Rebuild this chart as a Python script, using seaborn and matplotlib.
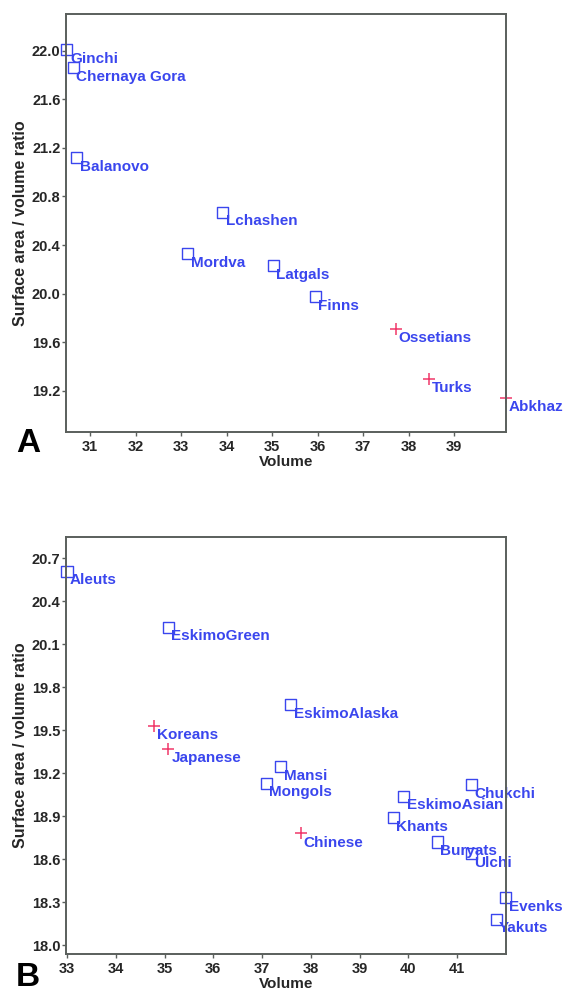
import matplotlib
matplotlib.use("Agg")
import matplotlib.pyplot as plt
import seaborn as sns
import pandas as pd

# ---- Panel A data ----
a_names = ["Ginchi", "Chernaya Gora", "Balanovo", "Lchashen", "Mordva", "Latgals",
           "Finns", "Ossetians", "Turks", "Abkhaz"]
a_volume = [30.49, 30.63, 30.71, 33.92, 33.15, 35.03, 35.95, 37.72, 38.45, 40.14]
a_ratio = [22.01, 21.86, 21.12, 20.67, 20.33, 20.23, 19.975, 19.71, 19.30, 19.14]
a_group = ["ancient", "ancient", "ancient", "ancient", "ancient", "ancient",
           "ancient", "modern", "modern", "modern"]

# ---- Panel B data ----
b_names = ["Aleuts", "EskimoGreen", "Koreans", "Japanese", "EskimoAlaska", "Mansi",
           "Mongols", "Chinese", "Chukchi", "EskimoAsian", "Khants", "Buryats",
           "Ulchi", "Evenks", "Yakuts"]
b_volume = [33.0, 35.08, 34.78, 35.08, 37.59, 37.38, 37.09, 37.79, 41.29, 39.90,
            39.69, 40.59, 41.29, 42.0, 41.80]
b_ratio = [20.61, 20.22, 19.53, 19.37, 19.68, 19.245, 19.13, 18.78, 19.12, 19.04,
           18.89, 18.72, 18.64, 18.33, 18.18]
b_group = ["north", "north", "south", "south", "north", "north", "north", "south",
           "north", "north", "north", "north", "north", "north", "north"]

a_xticks = [31, 32, 33, 34, 35, 36, 37, 38, 39]
a_yticks = [19.2, 19.6, 20.0, 20.4, 20.8, 21.2, 21.6, 22.0]
b_xticks = [33, 34, 35, 36, 37, 38, 39, 40, 41]
b_yticks = [18.0, 18.3, 18.6, 18.9, 19.2, 19.5, 19.8, 20.1, 20.4, 20.7]

BLUE = "#3a46ee"
RED = "#f0386a"
FRAME = "#5a5f5c"

sns.set_style("white")
plt.rcParams["font.family"] = ["Liberation Sans", "DejaVu Sans"]
plt.rcParams["font.weight"] = "bold"

fig = plt.figure(figsize=(5.64, 9.93), dpi=100)
axA = fig.add_axes([0.117, 0.5647, 0.780, 0.4212])
axB = fig.add_axes([0.117, 0.0390, 0.780, 0.4202])

dfA = pd.DataFrame({"Volume": a_volume, "Ratio": a_ratio, "Name": a_names, "Group": a_group})
dfB = pd.DataFrame({"Volume": b_volume, "Ratio": b_ratio, "Name": b_names, "Group": b_group})


def draw(ax, df, sq_group, xl, yl, xt, yt, yfmt, letter, letter_y):
    sq = df[df["Group"] == sq_group]
    pl = df[df["Group"] != sq_group]
    sns.scatterplot(data=sq, x="Volume", y="Ratio", ax=ax, marker="s", s=64,
                    facecolor="none", edgecolor=BLUE, linewidth=1.0, clip_on=False,
                    zorder=3, legend=False)
    sns.scatterplot(data=pl, x="Volume", y="Ratio", ax=ax, marker="+", s=80,
                    color=RED, linewidth=1.1, clip_on=False, zorder=3, legend=False)
    for _, r in df.iterrows():
        ax.annotate(r["Name"], (r["Volume"], r["Ratio"]), xytext=(2.2, -1.5),
                    textcoords="offset points", ha="left", va="top",
                    color=BLUE, fontsize=11, fontweight="bold", zorder=4,
                    annotation_clip=False)
    ax.set_xlim(*xl)
    ax.set_ylim(*yl)
    ax.set_xticks(xt)
    ax.set_xticklabels([str(v) for v in xt])
    ax.set_yticks(yt)
    ax.set_yticklabels([yfmt.format(v) for v in yt])
    ax.set_xlabel("Volume", fontsize=11, fontweight="bold", labelpad=1)
    ax.set_ylabel("Surface area / volume ratio", fontsize=11.5, fontweight="bold", labelpad=3)
    for sp in ax.spines.values():
        sp.set_visible(True)
        sp.set_color(FRAME)
        sp.set_linewidth(1.4)
        sp.set_zorder(5)
    ax.tick_params(axis="both", which="both", direction="out", length=3,
                   width=1.0, color=FRAME, labelsize=10.5, pad=2)
    ax.tick_params(axis="x", bottom=True, top=False, pad=2.5)
    ax.tick_params(axis="y", left=True, right=False, pad=1)
    for lab in ax.get_xticklabels() + ax.get_yticklabels():
        lab.set_fontweight("bold")
    ax.grid(False)
    fig.text(0.05, letter_y, letter, fontsize=24, fontweight="bold",
             ha="center", va="center", color="black")


draw(axA, dfA, "ancient", (30.47, 40.14), (18.859, 22.302), a_xticks, a_yticks,
     "{:.1f}", "A", 1 - 443 / 993)
draw(axB, dfB, "north", (32.98, 42.0), (17.936, 20.85), b_xticks, b_yticks,
     "{:.1f}", "B", 1 - 977 / 993)

fig.savefig("out.png", dpi=100)
